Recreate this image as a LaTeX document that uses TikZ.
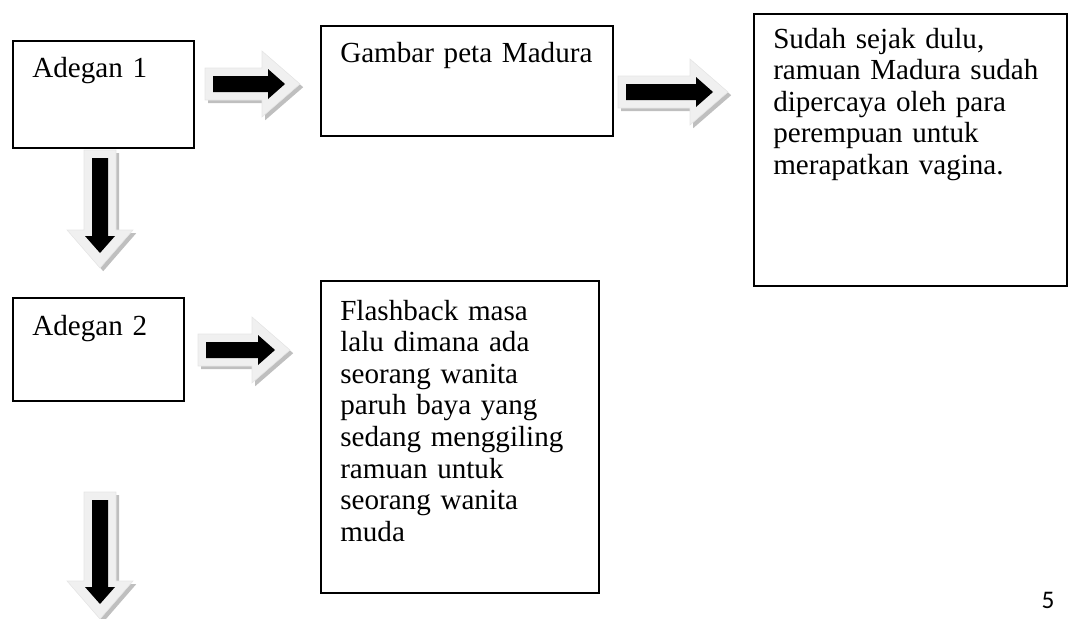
\documentclass[tikz,border=0pt]{standalone}
\usepackage{fontspec}
\setmainfont{Liberation Serif}
\newfontfamily\pagefont{Carlito}
\tikzset{
  box/.style={draw=black, line width=1.2pt, anchor=north west, inner sep=0pt},
  boxtext/.style={anchor=base west, inner sep=0pt, align=left, text width=8cm,
    font=\fontsize{20.7}{22.5}\selectfont},
  arrowshade/.style={fill=black!25, draw=none},
  arrowback/.style={fill=black!6, draw=black!10, line width=0.4pt},
  arrowcore/.style={fill=black, draw=none},
}
% #1 tail point, #2 length (px), #3 angle
\newcommand{\fatarrow}[3]{%
  \begin{scope}[shift={#1}, xshift=0.08cm, yshift=-0.08cm, rotate=#3]
    \fill[arrowshade] (0,-16) -- ({#2-38},-16) -- ({#2-38},-33) -- (#2,0)
      -- ({#2-38},33) -- ({#2-38},16) -- (0,16) -- cycle;
  \end{scope}
  \begin{scope}[shift={#1}, rotate=#3]
    \filldraw[arrowback] (0,-16) -- ({#2-38},-16) -- ({#2-38},-33) -- (#2,0)
      -- ({#2-38},33) -- ({#2-38},16) -- (0,16) -- cycle;
    \fill[arrowcore] (8,-8) -- ({#2-32},-8) -- ({#2-32},-15) -- ({#2-15},0)
      -- ({#2-32},15) -- ({#2-32},8) -- (8,8) -- cycle;
  \end{scope}}

\begin{document}
\begin{tikzpicture}[x=0.025cm, y=-0.025cm]
\useasboundingbox (0,0) rectangle (1068,619);

% boxes
\node[box, minimum width=4.525cm, minimum height=2.675cm] (adegan1) at (12,40) {};
\node[box, minimum width=7.3cm, minimum height=2.75cm] (peta) at (320,25) {};
\node[box, minimum width=7.825cm, minimum height=6.8cm] (ramuan) at (753,13) {};
\node[box, minimum width=4.275cm, minimum height=2.575cm] (adegan2) at (12,297) {};
\node[box, minimum width=6.95cm, minimum height=7.8cm] (flashback) at (320,280) {};

% texts
\node[boxtext] (t1) at ([xshift=0.5cm, yshift=-0.925cm]adegan1.north west) {Adegan 1};
\node[boxtext] (t2) at ([xshift=0.5cm, yshift=-0.925cm]peta.north west) {Gambar peta Madura};
\node[boxtext] (t3) at ([xshift=0.5cm, yshift=-0.875cm]ramuan.north west)
  {Sudah sejak dulu,\\ramuan Madura sudah\\dipercaya oleh para\\perempuan untuk\\merapatkan vagina.};
\node[boxtext] (t4) at ([xshift=0.5cm, yshift=-0.95cm]adegan2.north west) {Adegan 2};
\node[boxtext] (t5) at ([xshift=0.5cm, yshift=-1cm]flashback.north west)
  {Flashback masa\\lalu dimana ada\\seorang wanita\\paruh baya yang\\sedang menggiling\\ramuan untuk\\seorang wanita\\muda};

% block arrows
\coordinate (a1) at (205,84);
\coordinate (a2) at (618,92);
\coordinate (a3) at (198,350);
\coordinate (d1) at (100,150);
\coordinate (d2) at (100,492);
\fatarrow{(a1)}{95}{0}
\fatarrow{(a2)}{110}{0}
\fatarrow{(a3)}{92}{0}
\fatarrow{(d1)}{118}{-90}
\fatarrow{(d2)}{127}{-90}

% page number
\node[font=\pagefont\fontsize{18}{20}\selectfont, inner sep=0pt] (page) at (1048,600) {5};
\end{tikzpicture}
\end{document}
